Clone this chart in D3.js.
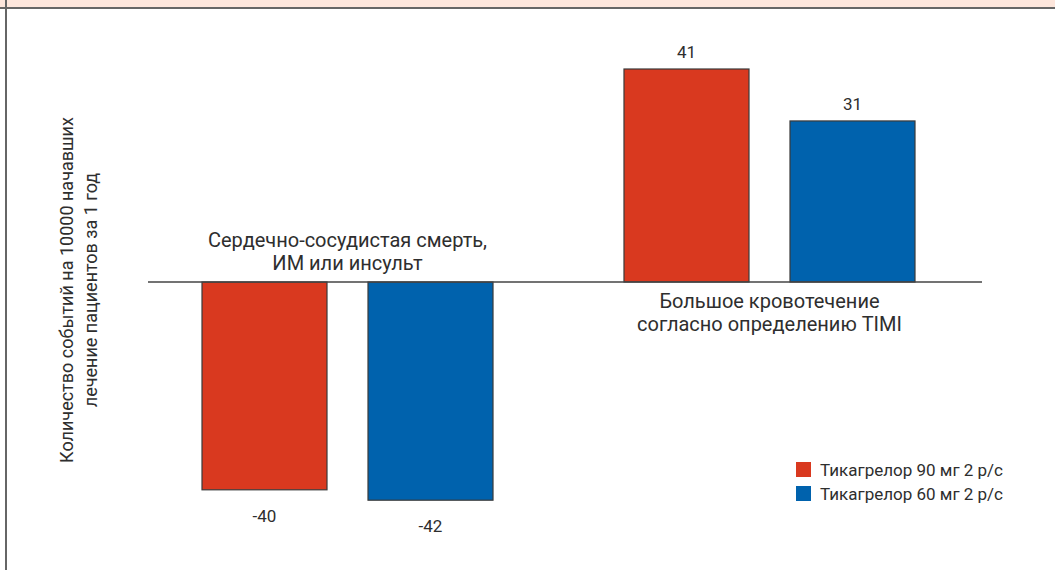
<!DOCTYPE html>
<html>
<head>
<meta charset="utf-8">
<script src="https://cdn.jsdelivr.net/npm/d3@7"></script>
<style>
  html, body { margin: 0; padding: 0; background: #fff; }
  svg { display: block; }
  text { font-family: "Roboto", "Noto Sans", sans-serif; fill: #2e2e2e; }
</style>
</head>
<body>
<svg id="chart" width="1055" height="570"></svg>
<script>
// Outcome groups and treatment arms
const groups = ["cv", "bleed"];
const groupLines = [
  ["Сердечно-сосудистая смерть,", "ИМ или инсульт"],
  ["Большое кровотечение", "согласно определению TIMI"]
];
const series = ["Тикагрелор 90 мг 2 р/с", "Тикагрелор 60 мг 2 р/с"];
const colors = ["#d9391f", "#0062ad"];
// Events per 10000 patients per year, by arm
const values90 = [-40, 41];
const values60 = [-42, 31];
const yTitle = ["Количество событий на 10000 начавших", "лечение пациентов за 1 год"];

const svg = d3.select("#chart");
const W = 1055, H = 570;

// Frame: peach header strip and grey rules
svg.append("rect").attr("x", 0).attr("y", 0).attr("width", W).attr("height", 7).attr("fill", "#fde6dc");
svg.append("rect").attr("x", 0).attr("y", 7).attr("width", W).attr("height", 2).attr("fill", "#666");
svg.append("rect").attr("x", 5).attr("y", 0).attr("width", 2).attr("height", H).attr("fill", "#666");

const x0 = d3.scaleBand().domain(groups).range([202, 915]).paddingInner(0.3104).paddingOuter(0);
const x1 = d3.scaleBand().domain(series).range([0, x0.bandwidth()]).paddingInner(0.247).paddingOuter(0);
const y = d3.scaleLinear().domain([0, 41]).range([282, 69]);

const data = [];
groups.forEach((g, i) => {
  data.push({ g, s: series[0], v: values90[i], c: colors[0] });
  data.push({ g, s: series[1], v: values60[i], c: colors[1] });
});

const bars = svg.append("g");
bars.selectAll("rect").data(data).join("rect")
  .attr("x", d => x0(d.g) + x1(d.s))
  .attr("width", x1.bandwidth())
  .attr("y", d => Math.min(y(d.v), y(0)))
  .attr("height", d => Math.abs(y(d.v) - y(0)))
  .attr("fill", d => d.c)
  .attr("stroke", "#3a3a3a")
  .attr("stroke-width", 1.2);

// Zero baseline
svg.append("line").attr("x1", 148).attr("x2", 982).attr("y1", y(0)).attr("y2", y(0))
  .attr("stroke", "#444").attr("stroke-width", 1.5);

// Value labels
svg.append("g").selectAll("text").data(data).join("text")
  .attr("x", d => x0(d.g) + x1(d.s) + x1.bandwidth() / 2)
  .attr("y", d => d.v >= 0 ? y(d.v) - 11 : y(d.v) + 32)
  .attr("text-anchor", "middle")
  .attr("font-size", 17)
  .text(d => d.v);

// Group captions, centred on each group
const capY = [247, 308];
groupLines.forEach((lines, i) => {
  const cx = x0(groups[i]) + x0.bandwidth() / 2;
  const t = svg.append("text").attr("text-anchor", "middle").attr("font-size", 20);
  lines.forEach((l, j) => {
    t.append("tspan").attr("x", cx).attr("y", capY[i] + j * 23).text(l);
  });
});

// Y axis title
const yt = svg.append("text").attr("transform", "translate(73,290) rotate(-90)")
  .attr("text-anchor", "middle").attr("font-size", 18);
yTitle.forEach((l, j) => yt.append("tspan").attr("x", 0).attr("y", j * 24).text(l));

// Legend
const lg = svg.append("g").attr("transform", "translate(796,462)");
series.forEach((s, i) => {
  lg.append("rect").attr("x", 0).attr("y", i * 24).attr("width", 15).attr("height", 15).attr("fill", colors[i]);
  lg.append("text").attr("x", 24).attr("y", i * 24 + 14).attr("font-size", 17).text(s);
});
</script>
</body>
</html>
